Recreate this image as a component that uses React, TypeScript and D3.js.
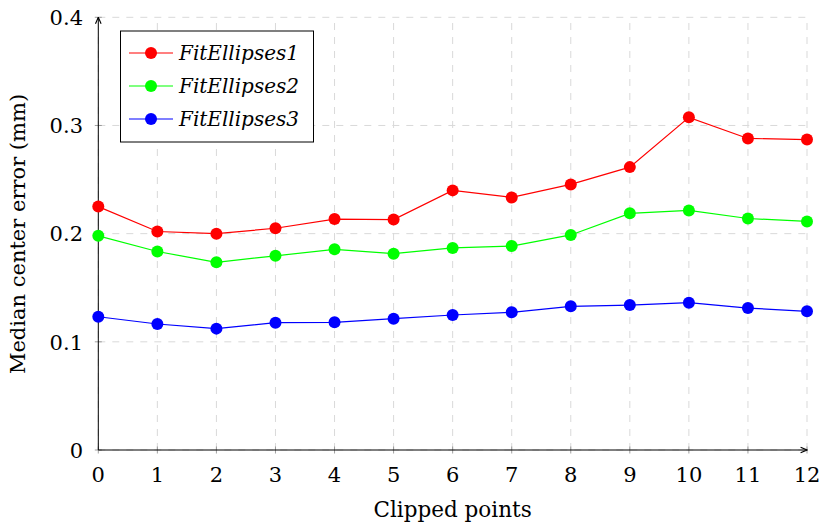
import React from "react";
import * as d3 from "d3";

const clipped = [0, 1, 2, 3, 4, 5, 6, 7, 8, 9, 10, 11, 12];
const fit1 = [0.225, 0.202, 0.2, 0.205, 0.2135, 0.213, 0.24, 0.2335, 0.2455, 0.2615, 0.3075, 0.288, 0.287];
const fit2 = [0.198, 0.1835, 0.1735, 0.1795, 0.1855, 0.1815, 0.1868, 0.1885, 0.1988, 0.2188, 0.2215, 0.214, 0.2113];
const fit3 = [0.1232, 0.1165, 0.1122, 0.1177, 0.118, 0.1214, 0.1248, 0.1273, 0.1328, 0.134, 0.1362, 0.1312, 0.1282];
const yTicks = [0, 0.1, 0.2, 0.3, 0.4];
const seriesNames = ["FitEllipses1", "FitEllipses2", "FitEllipses3"];
const seriesColors = ["#ff0000", "#00ff00", "#0000ff"];

const W = 824;
const H = 529;
const font = "'DejaVu Serif', serif";

export default function App() {
  const x = d3.scaleLinear().domain([0, 12]).range([98.3, 807]);
  const y = d3.scaleLinear().domain([0, 0.4]).range([450, 17.3]);
  const series = [fit1, fit2, fit3];
  const line = d3
    .line<number>()
    .x((_, i) => x(clipped[i]))
    .y((d) => y(d));

  const lx = 120.5;
  const ly = 31;
  const lw = 193;
  const lh = 111;
  const rowY = [53, 86, 119];

  return (
    <svg
      width={W}
      height={H}
      style={{ position: "absolute", left: 0, top: 0, background: "#fff" }}
      fontFamily={font}
    >
      <defs>
        <marker id="arr" viewBox="0 0 10 10" refX="9" refY="5" markerWidth="8" markerHeight="8" orient="auto">
          <path d="M1,1.5 L9,5 L1,8.5" fill="none" stroke="#000" strokeWidth="1.4" />
        </marker>
      </defs>
      {/* grid */}
      {clipped.map((c) => (
        <line key={"gx" + c} x1={x(c)} x2={x(c)} y1={y(0)} y2={y(0.4)} stroke="#d9d9d9" strokeWidth={1} strokeDasharray="7 7" />
      ))}
      {yTicks.map((t) => (
        <line key={"gy" + t} x1={x(0)} x2={x(12)} y1={y(t)} y2={y(t)} stroke="#d9d9d9" strokeWidth={1} strokeDasharray="7 7" />
      ))}
      {/* tick marks */}
      {clipped.map((c) => (
        <line key={"tx" + c} x1={x(c)} x2={x(c)} y1={y(0) - 3.5} y2={y(0) + 3.5} stroke="#888" strokeWidth={0.8} />
      ))}
      {yTicks.map((t) => (
        <line key={"ty" + t} x1={x(0) - 3.5} x2={x(0) + 3.5} y1={y(t)} y2={y(t)} stroke="#888" strokeWidth={0.8} />
      ))}
      {/* axes */}
      <line x1={x(0)} x2={x(12)} y1={y(0)} y2={y(0)} stroke="#000" strokeWidth={1} markerEnd="url(#arr)" />
      <line x1={x(0)} x2={x(0)} y1={y(0)} y2={y(0.4)} stroke="#000" strokeWidth={1} markerEnd="url(#arr)" />
      {/* tick labels */}
      {clipped.map((c) => (
        <text key={"lx" + c} x={x(c)} y={481.5} textAnchor="middle" fontSize={21} fill="#000">
          {c}
        </text>
      ))}
      {yTicks.map((t) => (
        <text key={"ly" + t} x={83} y={y(t) + 7.7} textAnchor="end" fontSize={21} fill="#000">
          {t === 0 ? "0" : d3.format(".1f")(t)}
        </text>
      ))}
      <text x={452.6} y={516.5} textAnchor="middle" fontSize={21.5} fill="#000">
        Clipped points
      </text>
      <text transform={`translate(25,234) rotate(-90)`} textAnchor="middle" fontSize={21} fill="#000">
        Median center error (mm)
      </text>
      {/* series */}
      {series.map((s, k) => (
        <g key={"s" + k}>
          <path d={line(s) || ""} fill="none" stroke={seriesColors[k]} strokeWidth={1.2} />
          {s.map((v, i) => (
            <circle key={i} cx={x(clipped[i])} cy={y(v)} r={6} fill={seriesColors[k]} />
          ))}
        </g>
      ))}
      {/* legend */}
      <rect x={lx} y={ly} width={lw} height={lh} fill="#fff" stroke="#000" strokeWidth={1} />
      {seriesNames.map((n, k) => (
        <g key={"lg" + k}>
          <line x1={129} x2={173} y1={rowY[k]} y2={rowY[k]} stroke={seriesColors[k]} strokeWidth={1.2} />
          <circle cx={151} cy={rowY[k]} r={6} fill={seriesColors[k]} />
          <text x={179} y={rowY[k] + 7} fontSize={20} fontStyle="italic" fill="#000">
            {n}
          </text>
        </g>
      ))}
    </svg>
  );
}
